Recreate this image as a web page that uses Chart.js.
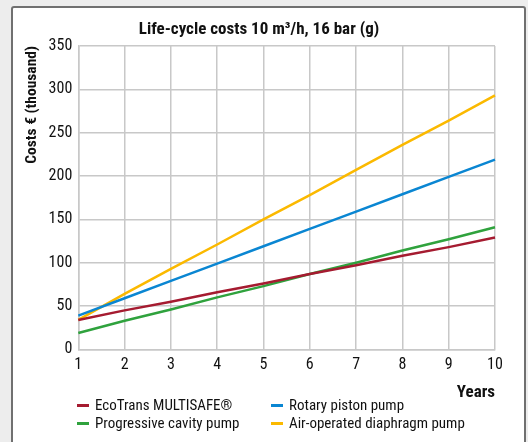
<!DOCTYPE html>
<html>
<head>
<meta charset="utf-8">
<script src="https://cdn.jsdelivr.net/npm/chart.js@4.4.1/dist/chart.umd.min.js"></script>
<style>
  body { margin: 0; background: #ededed; width: 528px; height: 442px; overflow: hidden; position: relative; }
  #panel { position: absolute; left: 11px; top: 6px; width: 511px; height: 460px; border: 2px solid #707070; border-radius: 3px; background: #fff; }
  #wrap { position: absolute; left: 0; top: 0; width: 528px; height: 442px; }
  #legend { position: absolute; left: 77px; top: 396px; width: 440px; font-family: "Roboto Condensed", sans-serif; font-size: 15px; color: #111; }
  .item { position: absolute; white-space: nowrap; line-height: 18px; }
  .item span.sw { display: inline-block; width: 12px; height: 3px; vertical-align: middle; margin-right: 6px; position: relative; top: -1px; }
</style>
</head>
<body>
<div id="panel"></div>
<div id="wrap"><canvas id="chart" width="528" height="442"></canvas></div>
<div id="legend"></div>
<script>
const FONT = '"Roboto Condensed", sans-serif'

const years = [1, 2, 3, 4, 5, 6, 7, 8, 9, 10]
const ecoTrans = [34, 45, 55, 66, 76, 87, 97, 108, 118, 129]
const rotaryPiston = [39, 59, 79, 99, 119, 139, 159, 179, 199, 219]
const progressiveCavity = [19, 33, 46, 60, 73, 87, 100, 114, 127, 141]
const airDiaphragm = [34, 64, 93, 121, 150, 178, 207, 236, 264, 293]

const seriesNames = ['EcoTrans MULTISAFE®', 'Rotary piston pump', 'Progressive cavity pump', 'Air-operated diaphragm pump']
const seriesColors = ['#a51b30', '#0a86d2', '#2fa23d', '#fbb900']

const seriesData = [ecoTrans, rotaryPiston, progressiveCavity, airDiaphragm]

const chart = new Chart(document.getElementById('chart'), {
  type: 'line',
  data: {
    labels: years,
    datasets: seriesData.map((values, i) => ({
      label: seriesNames[i],
      data: values,
      borderColor: seriesColors[i],
      backgroundColor: seriesColors[i],
      borderWidth: 2.5,
      pointRadius: 0,
      tension: 0
    }))
  },
  options: {
    responsive: false,
    animation: false,
    layout: {
      padding: { left: 23, right: 33, top: 20, bottom: 39 }
    },
    plugins: {
      legend: { display: false },
      tooltip: { enabled: false },
      title: {
        display: true,
        text: 'Life-cycle costs 10 m³/h, 16 bar (g)',
        color: '#111',
        font: { family: FONT, size: 17, weight: 'bold' },
        padding: { top: 0, bottom: 5.6 }
      }
    },
    scales: {
      x: {
        type: 'category',
        offset: false,
        grid: { color: '#c8c8c8', lineWidth: 1.5, drawTicks: false },
        border: { color: '#c8c8c8', width: 1.5 },
        ticks: { color: '#111', font: { family: FONT, size: 16 }, padding: 6, maxRotation: 0 },
        title: {
          display: true,
          text: 'Years',
          align: 'end',
          color: '#111',
          font: { family: FONT, size: 17, weight: 'bold' },
          padding: { top: 2, bottom: 0 }
        }
      },
      y: {
        min: 0,
        max: 350,
        grid: { color: '#c8c8c8', lineWidth: 1.5, drawTicks: false },
        border: { color: '#c8c8c8', width: 1.5 },
        ticks: { stepSize: 50, color: '#111', font: { family: FONT, size: 16 }, padding: 6 },
        title: {
          display: true,
          text: 'Costs € (thousand)',
          align: 'end',
          color: '#111',
          font: { family: FONT, size: 15.5, weight: 'bold' },
          padding: { top: 0, bottom: 1 }
        }
      }
    }
  }
})

// legend in two columns, built from the chart's datasets
const legendEl = document.getElementById('legend')
const colX = [0, 194]
chart.data.datasets.forEach((ds, i) => {
  const item = document.createElement('div')
  item.className = 'item'
  item.style.left = colX[i % 2] + 'px'
  item.style.top = (Math.floor(i / 2) * 18) + 'px'
  item.innerHTML = '<span class="sw" style="background:' + ds.borderColor + '"></span>'
  item.appendChild(document.createTextNode(ds.label))
  legendEl.appendChild(item)
})
</script>
</body>
</html>
